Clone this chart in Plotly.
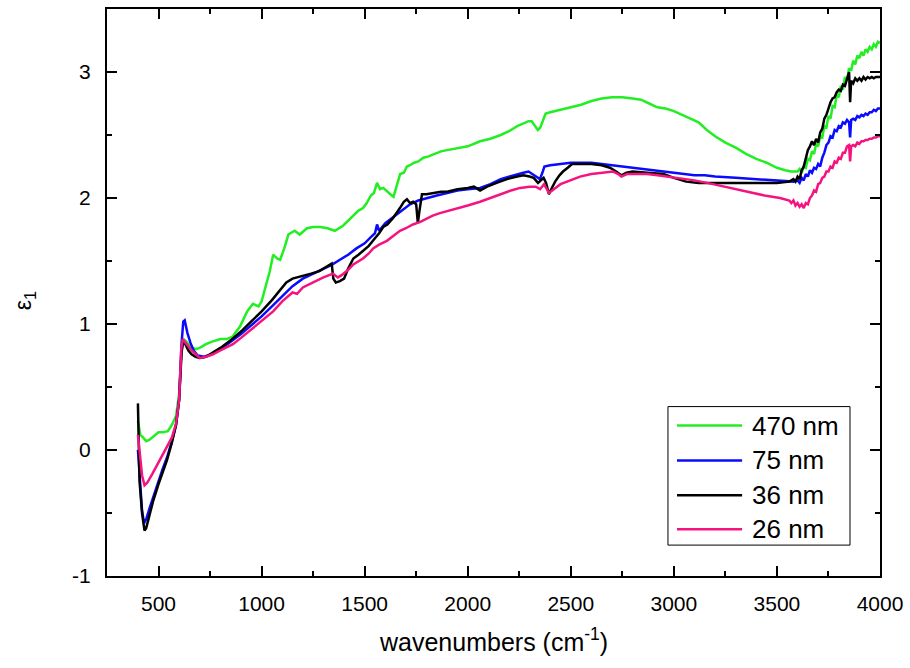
import plotly.graph_objects as go

# ---------------- data ----------------
x_470 = [400, 412, 425, 440, 455, 475, 500, 520, 545, 565, 585, 600, 612, 622, 635, 655, 680, 700, 730, 760,
         800, 830, 860, 895, 930, 958, 985, 1000, 1020, 1040, 1056, 1075, 1090, 1110, 1130, 1160, 1185, 1220,
         1250, 1285, 1320, 1355, 1395, 1420, 1445, 1470, 1492, 1510, 1530, 1545, 1560, 1575, 1590, 1608, 1625,
         1640, 1655, 1672, 1690, 1705, 1720, 1740, 1760, 1785, 1810, 1840, 1870, 1900, 1960, 2000, 2060, 2110,
         2160, 2200, 2240, 2270, 2295, 2310, 2325, 2340, 2352, 2365, 2378, 2400, 2450, 2500, 2550, 2600, 2650,
         2700, 2750, 2800, 2840, 2880, 2920, 2960, 3000, 3040, 3080, 3120, 3160, 3200, 3250, 3300, 3350, 3400,
         3450, 3500, 3540, 3570,
         3600, 3610, 3620, 3630, 3640, 3650, 3660, 3670, 3680, 3690, 3700, 3710, 3720, 3730, 3740, 3750, 3760,
         3770, 3780, 3790, 3800, 3810, 3820, 3830, 3840, 3850, 3860, 3870, 3880, 3890, 3900, 3910, 3920, 3930,
         3940, 3950, 3960, 3970, 3980, 3990, 4000]
y_470 = [0.23, 0.12, 0.10, 0.07, 0.08, 0.11, 0.14, 0.14, 0.15, 0.20, 0.27, 0.45, 0.80, 0.88, 0.86, 0.82, 0.80, 0.81, 0.84, 0.86,
         0.88, 0.88, 0.90, 0.98, 1.10, 1.16, 1.14, 1.18, 1.30, 1.42, 1.55, 1.52, 1.51, 1.60, 1.71, 1.74, 1.71, 1.76,
         1.77, 1.77, 1.76, 1.74, 1.78, 1.82, 1.86, 1.90, 1.92, 1.96, 2.02, 2.04, 2.12, 2.07, 2.08, 2.05, 2.03,
         2.01, 2.10, 2.19, 2.20, 2.25, 2.26, 2.28, 2.29, 2.32, 2.33, 2.35, 2.37, 2.38, 2.40, 2.41, 2.45, 2.47,
         2.50, 2.53, 2.57, 2.59, 2.61, 2.61, 2.57, 2.54, 2.56, 2.62, 2.67, 2.68, 2.70, 2.72, 2.74, 2.77, 2.79,
         2.80, 2.80, 2.79, 2.78, 2.75, 2.72, 2.71, 2.69, 2.66, 2.63, 2.60, 2.54, 2.49, 2.44, 2.40, 2.35, 2.31,
         2.28, 2.24, 2.22, 2.21,
         2.21, 2.23, 2.20, 2.25, 2.24, 2.31, 2.30, 2.37, 2.35, 2.43, 2.41, 2.49, 2.48, 2.57, 2.56, 2.65, 2.63,
         2.73, 2.72, 2.82, 2.80, 2.89, 2.86, 2.96, 2.93, 3.03, 3.01, 3.09, 3.06, 3.13, 3.11, 3.16, 3.13, 3.18,
         3.16, 3.20, 3.18, 3.22, 3.20, 3.24, 3.23]

x_75 = [400, 410, 420, 430, 440, 455, 473, 500, 520, 541, 565, 585, 600, 612, 620, 627, 640, 655, 670, 690,
        720, 760, 800, 850, 900, 950, 1000, 1050, 1100, 1150, 1200, 1250, 1300, 1340, 1380, 1420, 1460, 1500,
        1530, 1550, 1560, 1570, 1600, 1640, 1680, 1720, 1760, 1800, 1850, 1900, 1950, 2000, 2060, 2110, 2160,
        2200, 2240, 2270, 2295, 2315, 2335, 2350, 2362, 2372, 2400, 2450, 2500, 2550, 2600, 2650, 2700, 2750,
        2800, 2850, 2900, 2950, 3000, 3050, 3100, 3150, 3200, 3300, 3400, 3500, 3560, 3580,
        3600, 3610, 3620, 3630, 3640, 3650, 3660, 3670, 3680, 3690, 3700, 3710, 3720, 3730, 3740, 3750, 3760,
        3770, 3780, 3790, 3800, 3810, 3820, 3830, 3840, 3850, 3855, 3860, 3870, 3880, 3890, 3900, 3910, 3920,
        3930, 3940, 3950, 3960, 3970, 3980, 3990, 4000]
y_75 = [0.00, -0.25, -0.48, -0.58, -0.55, -0.47, -0.38, -0.25, -0.15, -0.06, 0.07, 0.20, 0.40, 0.85, 1.02, 1.03, 0.93, 0.85, 0.79, 0.75,
        0.74, 0.76, 0.80, 0.86, 0.92, 0.99, 1.06, 1.14, 1.22, 1.30, 1.36, 1.40, 1.44, 1.47, 1.51, 1.55, 1.60, 1.64,
        1.69, 1.72, 1.79, 1.74, 1.80, 1.85, 1.90, 1.95, 1.98, 2.00, 2.02, 2.04, 2.06, 2.07, 2.08, 2.11, 2.15,
        2.17, 2.19, 2.20, 2.21, 2.19, 2.17, 2.15, 2.20, 2.25, 2.26, 2.27, 2.28, 2.28, 2.28, 2.27, 2.26, 2.25,
        2.24, 2.23, 2.22, 2.21, 2.20, 2.19, 2.18, 2.18, 2.17, 2.16, 2.15, 2.14, 2.13, 2.13,
        2.14, 2.12, 2.16, 2.14, 2.19, 2.17, 2.22, 2.20, 2.24, 2.23, 2.27, 2.25, 2.32, 2.36, 2.42, 2.44, 2.49,
        2.48, 2.54, 2.53, 2.57, 2.56, 2.60, 2.59, 2.62, 2.60, 2.48, 2.62, 2.63, 2.62, 2.65, 2.64, 2.66, 2.65,
        2.67, 2.66, 2.68, 2.68, 2.70, 2.69, 2.71, 2.71]

x_36 = [400, 403, 408, 420, 432, 440, 455, 473, 500, 520, 541, 565, 585, 600, 612, 620, 630, 645, 660, 680,
        700, 730, 760, 800, 850, 900, 950, 1000, 1050, 1090, 1120, 1150, 1200, 1240, 1280, 1310, 1340, 1348,
        1360, 1380, 1400, 1420, 1445, 1470, 1492, 1520, 1545, 1570, 1590, 1610, 1637, 1655, 1671, 1690, 1705,
        1720, 1735, 1750, 1758, 1766, 1778, 1800, 1831, 1870, 1900, 1950, 2000, 2030, 2060, 2094, 2140, 2190,
        2240, 2270, 2300, 2320, 2341, 2355, 2368, 2380, 2394, 2405, 2424, 2445, 2462, 2485, 2506, 2550, 2600,
        2650, 2690, 2720, 2745, 2770, 2800, 2870, 2950, 3000, 3060, 3120, 3200, 3300, 3400, 3500, 3560,
        3580, 3590, 3600, 3610, 3620, 3630, 3640, 3650, 3660, 3670, 3680, 3690, 3700, 3710, 3720, 3730, 3740,
        3750, 3760, 3770, 3780, 3790, 3800, 3810, 3820, 3830, 3840, 3850, 3855, 3860, 3870, 3880, 3890, 3900,
        3910, 3920, 3930, 3940, 3950, 3960, 3970, 3980, 3990, 4000]
y_36 = [0.37, 0.10, -0.25, -0.50, -0.64, -0.62, -0.52, -0.41, -0.27, -0.17, -0.08, 0.06, 0.20, 0.40, 0.78, 0.86, 0.84, 0.79, 0.76, 0.74,
        0.73, 0.74, 0.77, 0.81, 0.87, 0.94, 1.02, 1.10, 1.19, 1.27, 1.33, 1.36, 1.38, 1.40, 1.42, 1.45, 1.48, 1.36,
        1.33, 1.34, 1.36, 1.44, 1.52, 1.55, 1.58, 1.62, 1.67, 1.72, 1.77, 1.79, 1.84, 1.88, 1.92, 1.97, 1.99,
        1.96, 1.97, 1.95, 1.80, 1.90, 2.03, 2.03, 2.04, 2.05, 2.05, 2.07, 2.08, 2.09, 2.06, 2.09, 2.12, 2.15,
        2.17, 2.18, 2.17, 2.16, 2.12, 2.14, 2.16, 2.12, 2.03, 2.07, 2.13, 2.18, 2.21, 2.24, 2.27, 2.27, 2.27,
        2.26, 2.24, 2.21, 2.18, 2.20, 2.21, 2.20, 2.19, 2.16, 2.13, 2.12, 2.12, 2.12, 2.12, 2.12, 2.13,
        2.15, 2.13, 2.17, 2.15, 2.22, 2.25, 2.32, 2.38, 2.41, 2.45, 2.42, 2.47, 2.44, 2.52, 2.55, 2.63, 2.66,
        2.72, 2.76, 2.79, 2.80, 2.84, 2.86, 2.85, 2.90, 2.89, 2.95, 3.00, 2.76, 2.93, 2.91, 2.95, 2.93, 2.95,
        2.93, 2.96, 2.94, 2.96, 2.95, 2.96, 2.95, 2.96, 2.96, 2.96]

x_26 = [400, 410, 420, 432, 445, 470, 500, 520, 541, 565, 585, 600, 610, 617, 627, 640, 655, 680, 700, 730,
        764, 800, 861, 900, 958, 1000, 1056, 1100, 1150, 1172, 1200, 1250, 1300, 1346, 1370, 1390, 1420, 1443,
        1470, 1492, 1520, 1541, 1570, 1608, 1640, 1671, 1700, 1734, 1770, 1802, 1830, 1865, 1910, 1963, 2000,
        2060, 2110, 2157, 2210, 2254, 2300, 2330, 2351, 2370, 2380, 2394, 2410, 2424, 2450, 2482, 2545, 2600,
        2642, 2705, 2730, 2745, 2773, 2820, 2870, 2920, 2967, 3030, 3100, 3190, 3270, 3355, 3440, 3515, 3550,
        3560, 3570, 3580, 3590, 3600, 3610, 3620, 3630, 3640, 3650, 3660, 3670, 3680, 3690, 3700, 3710, 3720,
        3730, 3740, 3750, 3760, 3770, 3780, 3790, 3800, 3810, 3820, 3830, 3840, 3850, 3855, 3860, 3870, 3880,
        3890, 3900, 3910, 3920, 3930, 3940, 3950, 3960, 3970, 3980, 3990, 4000]
y_26 = [0.12, -0.05, -0.20, -0.28, -0.26, -0.19, -0.10, -0.04, 0.02, 0.10, 0.21, 0.40, 0.80, 0.88, 0.86, 0.83, 0.80, 0.76, 0.73, 0.74,
        0.76, 0.79, 0.84, 0.89, 0.97, 1.03, 1.10, 1.18, 1.25, 1.24, 1.29, 1.33, 1.37, 1.40, 1.37, 1.39, 1.43, 1.47,
        1.50, 1.52, 1.56, 1.60, 1.63, 1.66, 1.70, 1.74, 1.76, 1.79, 1.81, 1.84, 1.86, 1.88, 1.90, 1.92, 1.94,
        1.97, 2.00, 2.03, 2.06, 2.08, 2.09, 2.09, 2.07, 2.11, 2.08, 2.04, 2.06, 2.08, 2.11, 2.13, 2.17, 2.19,
        2.20, 2.21, 2.19, 2.17, 2.19, 2.19, 2.19, 2.18, 2.17, 2.16, 2.14, 2.11, 2.08, 2.05, 2.02, 2.00, 1.98,
        1.98, 1.96, 1.98, 1.94, 1.96, 1.93, 1.95, 1.92, 1.96, 1.95, 2.00, 2.02, 2.06, 2.05, 2.11, 2.12, 2.16,
        2.17, 2.21, 2.21, 2.25, 2.24, 2.29, 2.28, 2.32, 2.31, 2.36, 2.36, 2.41, 2.42, 2.29, 2.41, 2.42, 2.41,
        2.44, 2.43, 2.45, 2.45, 2.46, 2.46, 2.47, 2.47, 2.48, 2.48, 2.49, 2.49]

series_names = ["470 nm", "75 nm", "36 nm", "26 nm"]
series_x = [x_470, x_75, x_36, x_26]
series_y = [y_470, y_75, y_36, y_26]
series_colors = ["#22ee22", "#0a0aff", "#000000", "#f5147f"]

x_tickvals = [500, 1000, 1500, 2000, 2500, 3000, 3500, 4000]
y_tickvals = [-1, 0, 1, 2, 3]
y_ticktext = ["-1", "0", "1", "2", "3"]

# ---------------- figure ----------------
FONT = "Arial, Liberation Sans, sans-serif"
fig = go.Figure()
for name, xs, ys, col in zip(series_names, series_x, series_y, series_colors):
    fig.add_trace(go.Scatter(x=xs, y=ys, mode="lines", name=name, showlegend=False,
                             line=dict(color=col, width=2.5)))

axis_common = dict(
    showline=True, linecolor="black", linewidth=2, mirror="allticks",
    ticks="inside", ticklen=10, tickwidth=1.5, tickcolor="black",
    showgrid=False, zeroline=False,
    tickfont=dict(family=FONT, size=21, color="black"),
)
fig.update_xaxes(range=[250, 4000], tickvals=x_tickvals,
                 minor=dict(ticks="inside", ticklen=5, tickwidth=1.5, tickcolor="black", dtick=250, tick0=0),
                 ticklabelstandoff=8, **axis_common)
fig.update_yaxes(range=[-1, 3.5], tickvals=y_tickvals, ticktext=y_ticktext,
                 minor=dict(ticks="inside", ticklen=5, tickwidth=1.5, tickcolor="black", dtick=0.5, tick0=0),
                 ticklabelstandoff=10, **axis_common)

fig.add_annotation(text="wavenumbers (cm<sup>-1</sup>)", xref="paper", yref="paper",
                   x=0.5, y=-0.112, xanchor="center", yanchor="middle", showarrow=False,
                   font=dict(family=FONT, size=25, color="black"))
fig.add_annotation(text="ε<sub>1</sub>", xref="paper", yref="paper",
                   x=-0.107, y=0.485, xanchor="center", yanchor="middle", showarrow=False,
                   textangle=-90, font=dict(family=FONT, size=23, color="black"))

# legend box (drawn in paper coordinates, like the reference's framed legend)
leg_x0, leg_x1, leg_y0, leg_y1 = 0.7257, 0.9612, 0.0545, 0.2988
line_x0, line_x1, text_x = 0.7374, 0.8216, 0.8318
row_y = [0.2654, 0.2039, 0.1424, 0.0826]
fig.add_shape(type="rect", xref="paper", yref="paper", x0=leg_x0, x1=leg_x1, y0=leg_y0, y1=leg_y1,
              line=dict(color="black", width=1), fillcolor="white", layer="above")
for name, col, ry in zip(series_names, series_colors, row_y):
    fig.add_shape(type="line", xref="paper", yref="paper", x0=line_x0, x1=line_x1, y0=ry, y1=ry,
                  line=dict(color=col, width=2.5), layer="above")
    fig.add_annotation(text=name, xref="paper", yref="paper", x=text_x, y=ry,
                       xanchor="left", yanchor="middle", showarrow=False,
                       font=dict(family=FONT, size=26, color="black"))

fig.update_layout(
    width=910, height=668,
    margin=dict(l=107, r=30, t=7, b=92),
    paper_bgcolor="white", plot_bgcolor="white",
    font=dict(family=FONT, color="black"),
    showlegend=False,
)

fig.write_html("out.html")
